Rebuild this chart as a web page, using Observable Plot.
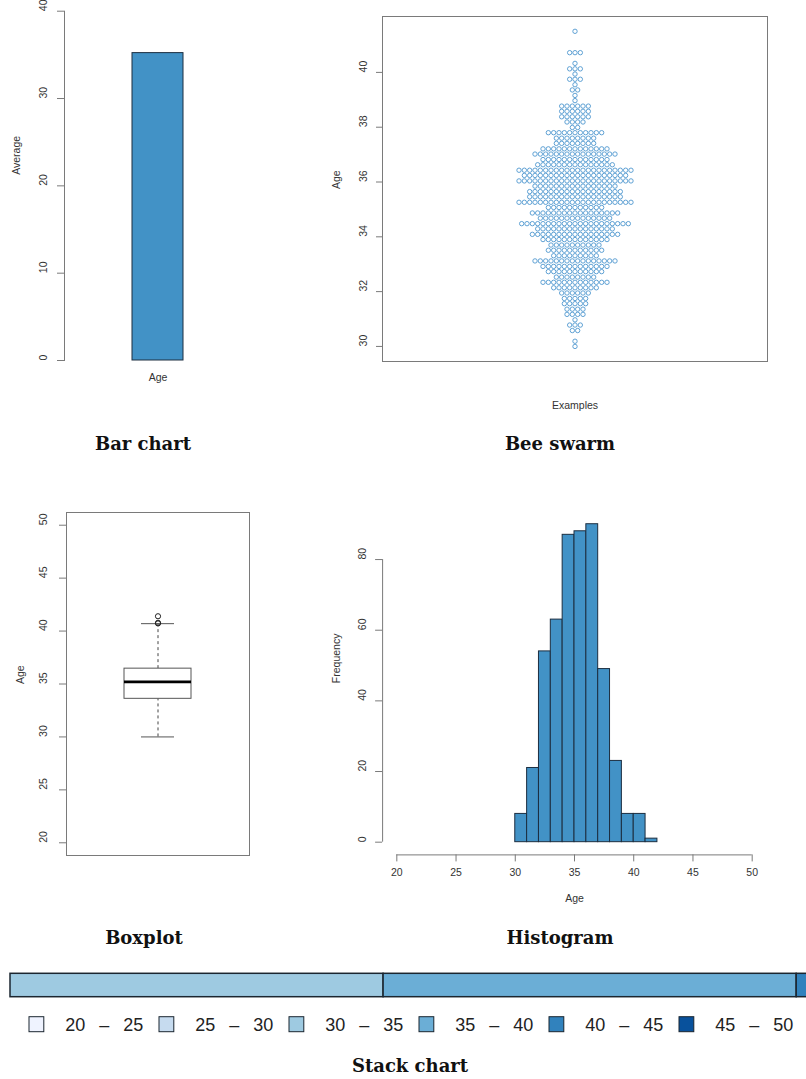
<!DOCTYPE html>
<html>
<head>
<meta charset="utf-8">
<script src="https://cdn.jsdelivr.net/npm/d3@7"></script>
<script src="https://cdn.jsdelivr.net/npm/@observablehq/plot@0.6"></script>
<style>
html, body { margin: 0; padding: 0; background: #fff; overflow: hidden; }
#root { position: relative; width: 806px; height: 1079px; overflow: hidden; background: #fff; }
.panel { position: absolute; }
.panel svg { max-width: none !important; display: block; }
.title { position: absolute; font-family: 'DejaVu Serif', serif; font-weight: bold; font-size: 18px;
  line-height: 20px; color: #111; white-space: nowrap; transform: translateX(-50%); }
</style>
</head>
<body>
<div id="root"></div>
<script>
// ---------------- DATA ----------------
// Bar chart
const barCategories = ["Age"];
const barValues = [35.2];
const barTicks = [0, 10, 20, 30, 40];

// Bee swarm (row level of age, number of points in that row)
const swarmLevels = [30.00, 30.19, 30.58, 30.78, 30.97, 31.17, 31.36, 31.56, 31.75, 31.95,
  32.14, 32.34, 32.53, 32.73, 32.92, 33.12, 33.31, 33.51, 33.70, 33.90,
  34.09, 34.29, 34.48, 34.68, 34.87, 35.07, 35.26, 35.46, 35.65, 35.85,
  36.04, 36.24, 36.43, 36.63, 36.82, 37.02, 37.21, 37.41, 37.60, 37.80,
  37.99, 38.19, 38.38, 38.58, 38.77, 38.97, 39.16, 39.36, 39.55, 39.75,
  39.94, 40.13, 40.33, 40.72, 41.50];
const swarmCounts = [1, 1, 2, 3, 1, 4, 4, 5, 5, 6,
  9, 13, 8, 11, 13, 16, 9, 11, 10, 13,
  17, 15, 21, 14, 17, 11, 22, 18, 18, 16,
  22, 20, 22, 15, 13, 16, 13, 8, 8, 11,
  2, 4, 6, 6, 6, 1, 1, 2, 1, 3,
  1, 3, 1, 3, 1];
const swarmTicks = [30, 32, 34, 36, 38, 40];

// Boxplot
const boxCategories = ["Age"];
const boxStatNames = ["min", "q1", "median", "q3", "max"];
const boxStatValues = [30.0, 33.6, 35.2, 36.45, 40.7];
const boxOutliers = [40.72, 40.78, 41.4];
const boxTicks = [20, 25, 30, 35, 40, 45, 50];

// Histogram
const histBinEdges = [30, 31, 32, 33, 34, 35, 36, 37, 38, 39, 40, 41, 42];
const histCounts = [8, 21, 54, 63, 87, 88, 90, 49, 23, 8, 8, 1];
const histXTicks = [20, 25, 30, 35, 40, 45, 50];
const histYTicks = [0, 20, 40, 60, 80];

// Stack chart
const stackCategories = ["20 – 25", "25 – 30", "30 – 35", "35 – 40", "40 – 45", "45 – 50"];
const stackCounts = [0, 0, 233, 258, 9, 0];

// ---------------- STYLE ----------------
const stackColors = ["#eff3ff", "#c6dbef", "#9ecae1", "#6baed6", "#3182bd", "#08519c"];
const axisColor = "#7a7a7a";
const textColor = "#333";
const baseStyle = "font-family: 'Liberation Sans', Arial, sans-serif; font-size: 10.5px; color: #333; background: none; max-width: none;";

const root = document.getElementById("root");
function place(node, left, top, width) {
  const div = document.createElement("div");
  div.className = "panel";
  div.style.left = left + "px";
  div.style.top = top + "px";
  div.style.width = width + "px";
  div.appendChild(node);
  root.appendChild(div);
}
function title(text, cx, top) {
  const d = document.createElement("div");
  d.className = "title";
  d.textContent = text;
  d.style.left = cx + "px";
  d.style.top = top + "px";
  root.appendChild(d);
}

// ---------------- BAR CHART ----------------
const barData = barCategories.map((c, i) => ({cat: c, value: barValues[i]}));
const barPlot = Plot.plot({
  width: 260, height: 400,
  marginLeft: 64, marginRight: 9, marginTop: 10.7, marginBottom: 40,
  style: baseStyle,
  x: {type: "band", domain: barCategories, padding: 0.5714, axis: null},
  y: {domain: [barTicks[0], barTicks[barTicks.length - 1]]},
  marks: [
    Plot.barY(barData, {x: "cat", y: "value", fill: "#4292c6", stroke: "#1c2e40", strokeWidth: 1}),
    Plot.frame({anchor: "left", stroke: axisColor}),
    Plot.axisY(barTicks, {tickSize: 7, fill: "none", stroke: axisColor, label: null}),
    Plot.text(barTicks, {y: d => d, text: d => String(d), frameAnchor: "left", dx: -21, rotate: -90, fill: textColor}),
    Plot.text(barCategories, {x: d => d, text: d => d, frameAnchor: "bottom", dy: 20, fill: textColor}),
    Plot.text(["Average"], {text: d => d, frameAnchor: "left", dx: -48, dy: -11, rotate: -90, fill: textColor})
  ]
});
place(barPlot, 0, 0, 260);

// ---------------- BEE SWARM ----------------
const swarmPoints = swarmLevels.flatMap((v, i) =>
  d3.range(swarmCounts[i]).map(j => ({age: v, slot: j - (swarmCounts[i] - 1) / 2})));
const swarmPlot = Plot.plot({
  width: 486, height: 420,
  marginLeft: 62, marginRight: 39, marginTop: 16, marginBottom: 59,
  style: baseStyle,
  x: {domain: [-36.1, 36.1], axis: null},
  y: {domain: [29.45, 42.04]},
  marks: [
    Plot.frame({stroke: axisColor}),
    Plot.dot(swarmPoints, {x: "slot", y: "age", r: 2.2, stroke: "#4f97cf", strokeWidth: 0.9}),
    Plot.axisY(swarmTicks, {tickSize: 6, fill: "none", stroke: axisColor, label: null}),
    Plot.text(swarmTicks, {y: d => d, text: d => String(d), frameAnchor: "left", dx: -19, rotate: -90, fill: textColor}),
    Plot.text(["Age"], {text: d => d, frameAnchor: "left", dx: -46, rotate: -90, fill: textColor}),
    Plot.text(["Examples"], {text: d => d, frameAnchor: "bottom", dy: 47, fill: textColor})
  ]
});
place(swarmPlot, 320, 0, 486);

// ---------------- BOXPLOT ----------------
const boxRow = [Object.assign({cat: boxCategories[0]},
  Object.fromEntries(boxStatNames.map((n, i) => [n, boxStatValues[i]])))];
const boxPlot = Plot.plot({
  width: 260, height: 420,
  marginLeft: 66, marginRight: 11, marginTop: 22, marginBottom: 55,
  style: baseStyle,
  x: {type: "band", domain: boxCategories, padding: 0.4605, axis: null},
  y: {domain: [18.8, 51.2]},
  marks: [
    Plot.frame({stroke: axisColor}),
    Plot.ruleX(boxRow, {x: "cat", y1: "q3", y2: "max", stroke: "#444", strokeDasharray: "3,3"}),
    Plot.ruleX(boxRow, {x: "cat", y1: "min", y2: "q1", stroke: "#444", strokeDasharray: "3,3"}),
    Plot.tickY(boxRow, {x: "cat", y: "max", insetLeft: 17, insetRight: 17, stroke: "#555"}),
    Plot.tickY(boxRow, {x: "cat", y: "min", insetLeft: 17, insetRight: 17, stroke: "#555"}),
    Plot.barY(boxRow, {x: "cat", y1: "q1", y2: "q3", fill: "white", stroke: "#555"}),
    Plot.tickY(boxRow, {x: "cat", y: "median", stroke: "#000", strokeWidth: 2.6}),
    Plot.dot(boxOutliers, {x: () => boxCategories[0], y: d => d, r: 2.6, stroke: "#222", strokeWidth: 1}),
    Plot.axisY(boxTicks, {tickSize: 7, fill: "none", stroke: axisColor, label: null}),
    Plot.text(boxTicks, {y: d => d, text: d => String(d), frameAnchor: "left", dx: -23, rotate: -90, fill: textColor}),
    Plot.text(["Age"], {text: d => d, frameAnchor: "left", dx: -46, rotate: -90, fill: textColor})
  ]
});
place(boxPlot, 0, 490, 260);

// ---------------- HISTOGRAM ----------------
const histData = histCounts.map((c, i) => ({x1: histBinEdges[i], x2: histBinEdges[i + 1], count: c}));
const histXDomain = [18.8, 51.2];
const histYDomain = [-3.6, 93.6];
const histPlot = Plot.plot({
  width: 486, height: 420,
  marginLeft: 62.1, marginRight: 40.1, marginTop: 21, marginBottom: 55.6,
  style: baseStyle,
  x: {domain: histXDomain},
  y: {domain: histYDomain},
  marks: [
    Plot.rectY(histData, {x1: "x1", x2: "x2", y: "count", fill: "#4292c6", stroke: "#1c2e40", strokeWidth: 1}),
    Plot.ruleX([histXDomain[0]], {y1: histYTicks[0], y2: histYTicks[histYTicks.length - 1], stroke: axisColor}),
    Plot.ruleY([histYDomain[0]], {x1: histXTicks[0], x2: histXTicks[histXTicks.length - 1], stroke: axisColor}),
    Plot.axisY(histYTicks, {tickSize: 7, fill: "none", stroke: axisColor, label: null}),
    Plot.axisX(histXTicks, {tickSize: 7, fill: "none", stroke: axisColor, label: null}),
    Plot.text(histYTicks, {y: d => d, text: d => String(d), frameAnchor: "left", dx: -20.4, rotate: -90, fill: textColor}),
    Plot.text(histXTicks, {x: d => d, text: d => String(d), frameAnchor: "bottom", dy: 20.6, fill: textColor}),
    Plot.text(["Age"], {text: d => d, frameAnchor: "bottom", dy: 47.3, fill: textColor}),
    Plot.text(["Frequency"], {text: d => d, frameAnchor: "left", dx: -46.4, rotate: -90, fill: textColor})
  ]
});
place(histPlot, 320, 490, 486);

// ---------------- STACK CHART ----------------
const stackData = stackCategories.map((c, i) => ({cat: c, count: stackCounts[i]}));
const stackPlot = Plot.plot({
  width: 830, height: 50,
  marginLeft: 10, marginRight: 19.4, marginTop: 13.3, marginBottom: 13.3,
  style: baseStyle,
  x: {domain: [0, d3.sum(stackCounts)], axis: null},
  color: {domain: stackCategories, range: stackColors},
  marks: [
    Plot.barX(stackData.filter(d => d.count > 0),
      Plot.stackX({x: "count", fill: "cat", stroke: "#1b2630", strokeWidth: 1.5}))
  ]
});
place(stackPlot, 0, 960, 830);

const legendPlot = Plot.plot({
  width: 830, height: 40,
  marginLeft: 28, marginRight: 20.8, marginTop: 0, marginBottom: 0,
  style: "font-family: 'Liberation Sans', Arial, sans-serif; font-size: 18px; color: #222; background: none; max-width: none; word-spacing: 9px;",
  x: {type: "band", domain: stackCategories, padding: 0, axis: null},
  color: {domain: stackCategories, range: stackColors},
  marks: [
    Plot.cell(stackCategories, {x: d => d, fill: d => d, stroke: "#1b2630", strokeWidth: 1,
      insetRight: 115.2, insetTop: 11.7, insetBottom: 13.3}),
    Plot.text(stackCategories, {x: d => d, text: d => d, frameAnchor: "middle", textAnchor: "start",
      dx: -29.2, fontSize: 18, fill: "#222"})
  ]
});
place(legendPlot, 0, 1005, 830);

// ---------------- TITLES ----------------
title("Bar chart", 143, 434.4);
title("Bee swarm", 560, 434.4);
title("Boxplot", 144, 928.4);
title("Histogram", 560, 928.4);
title("Stack chart", 410, 1056.4);
</script>
</body>
</html>
